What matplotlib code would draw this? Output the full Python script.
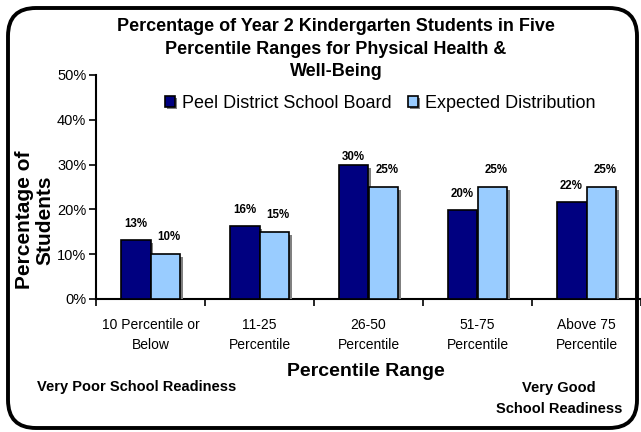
import matplotlib
matplotlib.use("Agg")
import matplotlib.pyplot as plt
import matplotlib.patheffects as pe
from matplotlib.patches import FancyBboxPatch
import numpy as np

plt.rcParams['font.family'] = ['Liberation Sans', 'DejaVu Sans']

categories = ["10 Percentile or\nBelow", "11-25\nPercentile", "26-50\nPercentile",
              "51-75\nPercentile", "Above 75\nPercentile"]
peel = [13.1, 16.3, 29.8, 19.8, 21.6]
peel_labels = ["13%", "16%", "30%", "20%", "22%"]
expected = [10, 15, 25, 25, 25]
expected_labels = ["10%", "15%", "25%", "25%", "25%"]
yticks = [0, 10, 20, 30, 40, 50]

W, H = 641, 432
fig = plt.figure(figsize=(W / 100, H / 100), dpi=100)

def fx(px):
    return px / W

def fy(py):
    return 1 - py / H

ax = fig.add_axes([fx(96), fy(299), fx(641) - fx(96), fy(75) - fy(299)])

x = np.arange(len(categories))
bw = 0.275
shadow = [pe.SimplePatchShadow(offset=(2, -2), shadow_rgbFace='#808080', alpha=1.0), pe.Normal()]
b1 = ax.bar(x - bw / 2, peel, bw, color='#000080', edgecolor='black', linewidth=1.2,
            label='Peel District School Board', path_effects=shadow, zorder=3)
b2 = ax.bar(x + bw / 2, expected, bw, color='#99CCFF', edgecolor='black', linewidth=1.2,
            label='Expected Distribution', path_effects=shadow, zorder=3)

for xi, v, t in zip(x, peel, peel_labels):
    ax.text(xi - bw / 2, min(v + 3.6, 31.8), t, ha='center', va='center',
            fontsize=8.3, fontweight='bold')
for xi, v, t in zip(x, expected, expected_labels):
    ax.text(xi + bw / 2 + 0.03, min(v + 3.8, 31.8), t, ha='center', va='center',
            fontsize=8.3, fontweight='bold')

ax.set_xlim(-0.5, len(categories) - 0.5)
ax.set_ylim(0, 50)
ax.set_yticks(yticks)
ax.set_yticklabels([f"{t}%" for t in yticks], fontsize=10.5)
ax.set_xticks(np.arange(len(categories) + 1) - 0.5, minor=False)
ax.set_xticklabels([])
ax.set_xticks(x, minor=True)
ax.set_xticklabels(categories, minor=True, fontsize=10, linespacing=1.5)
ax.tick_params(axis='x', which='minor', length=0, pad=14)
ax.tick_params(axis='x', which='major', length=5, direction='out', width=1.2)
ax.tick_params(axis='y', length=5, direction='out', width=1.2, pad=2)
for s in ['top', 'right']:
    ax.spines[s].set_visible(False)
for s in ['left', 'bottom']:
    ax.spines[s].set_linewidth(1.5)

fig.text(fx(336), fy(49), "Percentage of Year 2 Kindergarten Students in Five\n"
         "Percentile Ranges for Physical Health &\nWell-Being",
         ha='center', va='center', fontsize=13, fontweight='bold', linespacing=1.45)

fig.text(fx(35), fy(220), "Percentage of\nStudents", rotation=90, ha='center', va='center',
         fontsize=15, fontweight='bold', linespacing=1.08)

fig.text(fx(366), fy(372), "Percentile Range", ha='center', va='center',
         fontsize=14, fontweight='bold')
fig.text(fx(37), fy(387), "Very Poor School Readiness", ha='left', va='center',
         fontsize=10.5, fontweight='bold')
fig.text(fx(559), fy(388), "Very Good", ha='center', va='center',
         fontsize=10.5, fontweight='bold')
fig.text(fx(559), fy(409), "School Readiness", ha='center', va='center',
         fontsize=10.5, fontweight='bold')

leg = fig.legend(handles=[b1, b2], loc='center', bbox_to_anchor=(fx(380), fy(103)),
                 ncol=2, frameon=False, fontsize=13.0, handlelength=0.55,
                 handleheight=0.55, handletextpad=0.4, columnspacing=0.9)

border = FancyBboxPatch((8 / 100, (H - 428) / 100), (637 - 8) / 100, (428 - 8) / 100,
                        boxstyle="round,pad=0,rounding_size=0.28",
                        transform=fig.dpi_scale_trans, fill=False, edgecolor='black',
                        linewidth=2.8, zorder=10)
fig.patches.append(border)

fig.savefig("out.png", dpi=100)
